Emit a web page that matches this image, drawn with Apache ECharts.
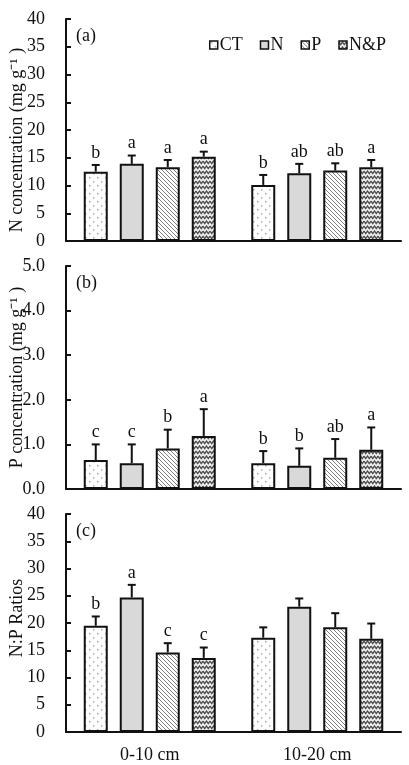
<!DOCTYPE html>
<html><head><meta charset="utf-8">
<script src="https://cdn.jsdelivr.net/npm/echarts@6/dist/echarts.min.js"></script>
<style>html,body{margin:0;padding:0;background:#fff}#c{width:409px;height:765px}</style>
</head><body><div id="c"></div>
<script>
const categories = ['0-10 cm', '10-20 cm'];
const treatments = ['CT', 'N', 'P', 'N&P'];
const yTicksA = [0, 5, 10, 15, 20, 25, 30, 35, 40];
const yTicksB = [0.0, 1.0, 2.0, 3.0, 4.0, 5.0];
const yTicksC = [0, 5, 10, 15, 20, 25, 30, 35, 40];
// panel (a) N concentration, rows = treatment, cols = depth
const nMean = [[12.5, 10.1], [13.9, 12.2], [13.3, 12.7], [15.2, 13.3]];
const nErr  = [[1.2, 1.8], [1.5, 1.7], [1.3, 1.3], [0.9, 1.3]];
const nLetters = [['b', 'b'], ['a', 'ab'], ['a', 'ab'], ['a', 'a']];
// panel (b) P concentration
const pMean = [[0.65, 0.58], [0.58, 0.52], [0.91, 0.70], [1.19, 0.88]];
const pErr  = [[0.35, 0.27], [0.42, 0.39], [0.42, 0.42], [0.60, 0.50]];
const pLetters = [['c', 'b'], ['c', 'b'], ['b', 'ab'], ['a', 'a']];
// panel (c) N:P ratios
const rMean = [[19.5, 17.3], [24.7, 23.0], [14.6, 19.2], [13.6, 17.1]];
const rErr  = [[1.7, 1.9], [2.3, 1.5], [1.7, 2.6], [1.9, 2.8]];
const rLetters = [['b', ''], ['a', ''], ['c', ''], ['c', '']];

const FONT = '"Liberation Serif","Times New Roman",serif';
const INK = '#111';
const FS = 18;

function mkCanvas(w, h, draw) {
  const c = document.createElement('canvas'); c.width = w; c.height = h;
  const g = c.getContext('2d'); draw(g, w, h); return c;
}
const patDots = mkCanvas(8, 8, (g) => {
  g.fillStyle = '#fff'; g.fillRect(0, 0, 8, 8);
  g.fillStyle = '#a8a8a8'; g.fillRect(1, 1, 1.5, 1.5); g.fillRect(5, 5, 1.5, 1.5);
});
const patDiag = mkCanvas(4, 4, (g) => {
  g.fillStyle = '#fff'; g.fillRect(0, 0, 4, 4);
  g.strokeStyle = '#808080'; g.lineWidth = 1;
  g.beginPath(); g.moveTo(-1, -1); g.lineTo(5, 5); g.moveTo(-1, 3); g.lineTo(1, 5); g.moveTo(3, -1); g.lineTo(5, 1); g.stroke();
});
const patZig = mkCanvas(7, 5, (g) => {
  g.fillStyle = '#eeeeee'; g.fillRect(0, 0, 7, 5);
  g.strokeStyle = '#4a4a4a'; g.lineWidth = 1.3;
  g.beginPath(); g.moveTo(0, 1); g.lineTo(1.75, 3.6); g.lineTo(3.5, 1); g.lineTo(5.25, 3.6); g.lineTo(7, 1); g.stroke();
});
const fills = [
  { image: patDots, repeat: 'repeat' },
  '#d9d9d9',
  { image: patDiag, repeat: 'repeat' },
  { image: patZig, repeat: 'repeat' }
];

const BAR_W = 24, STEP = 36;
const grids = [
  { left: 66, right: 8, top: 19, height: 222, outerBoundsMode: 'none' },
  { left: 66, right: 8, top: 266, height: 223, outerBoundsMode: 'none' },
  { left: 66, right: 8, top: 514, height: 218, outerBoundsMode: 'none' }
];
const panels = [
  { mean: nMean, err: nErr, letters: nLetters, ticks: yTicksA, name: 'N concentration (mg g\u207B\u00B9 )', dec: 0, tag: '(a)', namePad: [0, 20, 0, 0] },
  { mean: pMean, err: pErr, letters: pLetters, ticks: yTicksB, name: 'P concentration (mg g\u207B\u00B9 )', dec: 1, tag: '(b)', namePad: 0 },
  { mean: rMean, err: rErr, letters: rLetters, ticks: yTicksC, name: 'N:P Ratios', dec: 0, tag: '(c)', namePad: [0, 0, 0, 10] }
];

const xAxis = [], yAxis = [], series = [], title = [];
panels.forEach((p, k) => {
  const t = p.ticks;
  xAxis.push({
    type: 'category', gridIndex: k, data: categories,
    axisLine: { lineStyle: { color: INK, width: 2 } },
    axisTick: { inside: true, length: 5, lineStyle: { color: INK, width: 2 } },
    axisLabel: { show: k === 2, color: INK, fontFamily: FONT, fontSize: FS, margin: 14 }
  });
  yAxis.push({
    type: 'value', gridIndex: k, min: t[0], max: t[t.length - 1], interval: t[1] - t[0],
    name: p.name, nameLocation: 'middle', nameGap: 40, nameMoveOverlap: false,
    nameTextStyle: { color: INK, fontFamily: FONT, fontSize: FS, padding: p.namePad },
    axisLine: { show: true, lineStyle: { color: INK, width: 2 } },
    axisTick: { show: true, inside: true, length: 5, lineStyle: { color: INK, width: 2 } },
    axisLabel: { color: INK, fontFamily: FONT, fontSize: FS, margin: 21, formatter: v => v.toFixed(p.dec) },
    splitLine: { show: false }
  });
  treatments.forEach((tr, i) => {
    series.push({
      type: 'bar', name: tr, xAxisIndex: k, yAxisIndex: k,
      data: p.mean[i], barWidth: BAR_W, barGap: '50%',
      itemStyle: { color: fills[i], borderColor: INK, borderWidth: 2 },
      emphasis: { disabled: true }, animation: false
    });
  });
  const edata = [];
  treatments.forEach((tr, i) => {
    categories.forEach((c, j) => {
      edata.push([j, p.mean[i][j], p.mean[i][j] + p.err[i][j], i]);
    });
  });
  const letters = p.letters;
  series.push({
    type: 'custom', xAxisIndex: k, yAxisIndex: k, data: edata, z: 5,
    encode: { x: 0, y: [1, 2] }, animation: false, silent: true,
    renderItem: (params, api) => {
      const j = api.value(0), m = api.value(1), top = api.value(2), i = api.value(3);
      const b = api.coord([j, m]); const tp = api.coord([j, top]);
      const x = b[0] + (i - 1.5) * STEP;
      const children = [
        { type: 'line', shape: { x1: x, y1: b[1], x2: x, y2: tp[1] }, style: { stroke: INK, lineWidth: 2 } },
        { type: 'line', shape: { x1: x - 4, y1: tp[1], x2: x + 4, y2: tp[1] }, style: { stroke: INK, lineWidth: 2 } }
      ];
      const L = letters[i][j];
      if (L) children.push({ type: 'text', style: { text: L, x: x, y: tp[1] - 3, textAlign: 'center', textVerticalAlign: 'bottom', font: FS + 'px ' + FONT, fill: INK } });
      return { type: 'group', children };
    }
  });
  title.push({ text: p.tag, left: 71, top: grids[k].top + 3, textStyle: { color: INK, fontFamily: FONT, fontSize: FS, fontWeight: 'normal' } });
});

const chart = echarts.init(document.getElementById('c'), null, { renderer: 'canvas' });
chart.setOption({
  animation: false,
  title,
  grid: grids,
  xAxis, yAxis, series,
  legend: {
    data: treatments, right: 18, top: 31, itemWidth: 8, itemHeight: 8, itemGap: 17, icon: 'rect',
    textStyle: { color: INK, fontFamily: FONT, fontSize: FS, padding: [0, 0, 0, -3] },
    itemStyle: { borderColor: INK, borderWidth: 1.5 }
  }
});
</script></body></html>
